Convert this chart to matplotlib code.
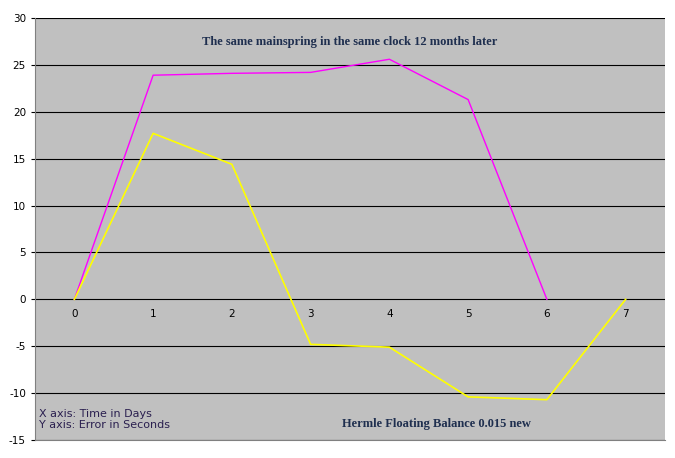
import matplotlib.pyplot as plt

plt.rcParams['axes.unicode_minus'] = False

days = [0, 1, 2, 3, 4, 5, 6, 7]
mag_days = [0, 1, 2, 3, 4, 5, 6]
mag_err = [0, 23.9, 24.1, 24.2, 25.6, 21.3, 0]
yel_err = [0, 17.7, 14.4, -4.8, -5.1, -10.4, -10.7, 0]

fig = plt.figure(figsize=(6.75, 4.58), dpi=100)
ax = fig.add_axes([35/675, 18/458, 630/675, 422/458])
ax.set_facecolor('#c0c0c0')

for y in range(-15, 31, 5):
    ax.axhline(y, color='black', lw=0.8, zorder=1)

ax.plot(mag_days, mag_err, color='#ff00ff', lw=1, zorder=3)
ax.plot(days, yel_err, color='#ffff00', lw=1.2, zorder=3)

ax.set_xlim(-0.5, 7.5)
ax.set_ylim(-15, 30)
ax.set_yticks(range(-15, 31, 5))
ax.tick_params(axis='y', labelsize=7.5, length=3)
ax.set_xticks([])
for d in days:
    ax.text(d, -1.0, str(d), ha='center', va='top', fontsize=7.5)

for s in ['top', 'right']:
    ax.spines[s].set_visible(False)
ax.spines['left'].set_color('#808080')
ax.spines['bottom'].set_color('#808080')

ax.text(3.5, 27.4, 'The same mainspring in the same clock 12 months later',
        ha='center', va='center', fontsize=9, fontweight='bold',
        family='Liberation Serif', color='#1f2f4f')
ax.text(4.6, -13.3, 'Hermle Floating Balance 0.015 new',
        ha='center', va='center', fontsize=9, fontweight='bold',
        family='Liberation Serif', color='#1f2f4f')
ax.text(-0.45, -12.8, 'X axis: Time in Days\nY axis: Error in Seconds',
        ha='left', va='center', fontsize=8, color='#2a1f4f', linespacing=1.2)

fig.savefig('out.png', dpi=100, facecolor='white')
